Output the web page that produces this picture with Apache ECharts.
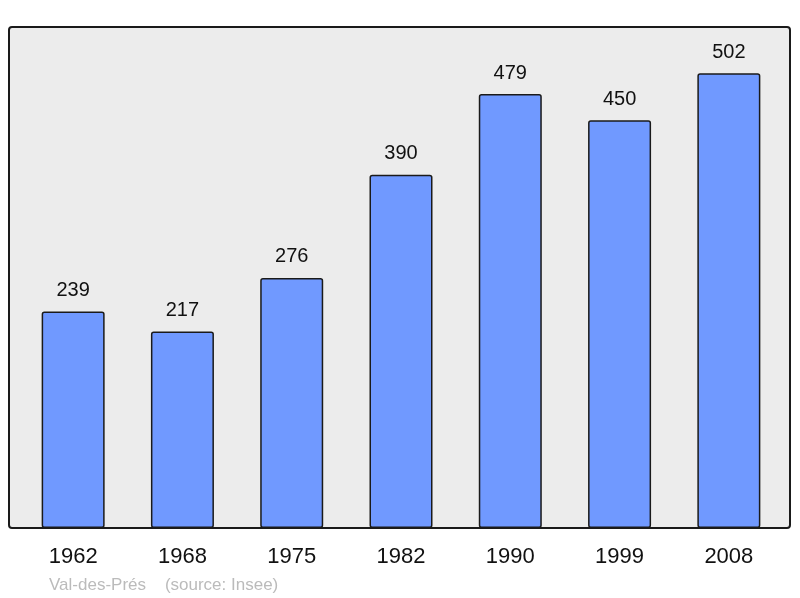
<!DOCTYPE html>
<html>
<head>
<meta charset="utf-8">
<script src="https://cdn.jsdelivr.net/npm/echarts@6/dist/echarts.min.js"></script>
<style>
  html, body { margin: 0; padding: 0; background: #fff; }
  #chart { width: 800px; height: 598px; }
</style>
</head>
<body>
<div id="chart"></div>
<script>
var years = ['1962', '1968', '1975', '1982', '1990', '1999', '2008'];
var population = [239, 217, 276, 390, 479, 450, 502];

var chart = echarts.init(document.getElementById('chart'));

var option = {
    animation: false,
    graphic: [{
        type: 'rect',
        z: -10,
        shape: { x: 9, y: 27, width: 781, height: 501, r: 3 },
        style: { fill: '#ececec', stroke: '#1a1a1a', lineWidth: 2 }
    }, {
        type: 'text',
        left: 49,
        top: 577,
        style: {
            text: 'Val-des-Prés    (source: Insee)',
            fill: '#bbbbbb',
            font: '17px "Liberation Sans", Arial, sans-serif'
        }
    }],
    grid: {
        left: 18.5,
        right: 16.5,
        top: 27,
        bottom: 70
    },
    xAxis: {
        type: 'category',
        data: years,
        axisLine: { show: false },
        axisTick: { show: false },
        axisLabel: {
            margin: 18,
            fontSize: 22,
            color: '#111',
            fontFamily: 'Liberation Sans'
        }
    },
    yAxis: {
        type: 'value',
        min: 0,
        max: 553,
        show: false,
        splitLine: { show: false }
    },
    series: [{
        type: 'bar',
        data: population,
        barWidth: 63,
        itemStyle: {
            color: '#7099ff',
            borderColor: '#1a1a1a',
            borderWidth: 1.5,
            borderRadius: 2
        },
        label: {
            show: true,
            position: 'top',
            distance: 11,
            fontSize: 20,
            color: '#111',
            fontFamily: 'Liberation Sans'
        }
    }]
};
chart.setOption(option);
</script>
</body>
</html>
